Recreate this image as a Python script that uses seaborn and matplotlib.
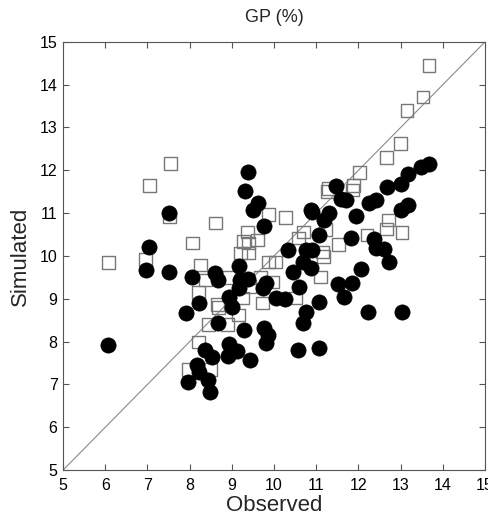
import matplotlib
matplotlib.use("Agg")
import matplotlib.pyplot as plt
import numpy as np
import pandas as pd
import seaborn as sns

# filled circles (observed, simulated)
circle_obs = [6.07, 7.04, 6.97, 7.52, 7.52, 8.06, 8.61, 8.68, 9.16, 9.20,
              9.39, 9.39, 9.30, 9.51, 9.61, 9.75, 8.92, 9.01, 8.23, 7.92,
              9.18, 9.73, 9.82, 10.04, 10.27, 8.66, 9.28, 9.75, 9.85, 9.80,
              8.92, 9.11, 8.90, 8.37, 8.54, 9.44, 8.18, 8.21, 7.97, 8.44,
              8.49, 10.91, 11.18, 11.06, 10.32, 10.75, 10.91, 10.68, 10.44, 10.87,
              10.58, 11.06, 10.75, 10.68, 10.56, 11.06, 11.46, 11.58, 11.70, 11.29,
              10.87, 11.94, 12.24, 12.41, 12.67, 13.00, 13.17, 13.48, 13.67, 13.00,
              13.17, 11.82, 12.36, 12.41, 12.60, 12.72, 12.05, 11.84, 11.51, 11.65,
              12.22, 13.03]
circle_sim = [7.92, 10.21, 9.67, 11.00, 9.63, 9.51, 9.60, 9.44, 9.77, 9.44,
              9.46, 11.96, 11.52, 11.07, 11.24, 10.70, 9.05, 8.81, 8.90, 8.67,
              9.25, 9.25, 9.37, 9.02, 9.00, 8.43, 8.27, 8.32, 8.15, 7.97,
              7.95, 7.78, 7.66, 7.80, 7.64, 7.57, 7.45, 7.29, 7.06, 7.10,
              6.82, 11.03, 10.84, 10.49, 10.14, 10.14, 10.14, 9.86, 9.63, 9.72,
              9.28, 8.93, 8.69, 8.43, 7.80, 7.85, 11.64, 11.33, 11.31, 11.00,
              11.07, 10.93, 11.24, 11.31, 11.61, 11.68, 11.92, 12.08, 12.15, 11.07,
              11.19, 10.42, 10.40, 10.19, 10.16, 9.86, 9.70, 9.37, 9.35, 9.04,
              8.69, 8.69]

# open squares (observed, simulated)
square_obs = [6.07, 6.95, 7.54, 7.04, 7.52, 8.61, 8.06, 8.25, 9.37, 9.28,
              9.39, 9.61, 9.20, 9.39, 9.87, 9.87, 10.04, 8.37, 8.92, 9.68,
              8.21, 8.66, 9.25, 9.73, 8.68, 9.16, 8.90, 8.44, 8.21, 7.97,
              8.49, 9.42, 10.27, 11.27, 11.86, 10.70, 10.58, 11.22, 11.53, 11.15,
              11.18, 11.10, 10.51, 9.96, 12.67, 12.03, 11.89, 11.29, 12.72, 12.67,
              13.03, 12.20, 13.67, 13.53, 13.15, 13.00]
square_sim = [9.84, 9.91, 12.15, 11.64, 10.91, 10.77, 10.30, 9.79, 10.56, 10.33,
              10.30, 10.37, 10.07, 10.07, 10.96, 9.86, 9.86, 9.44, 9.49, 9.49,
              9.14, 8.86, 9.02, 8.90, 8.79, 8.62, 8.39, 8.39, 7.99, 7.34,
              7.34, 9.28, 10.89, 11.50, 11.54, 10.56, 10.42, 10.61, 10.26, 10.09,
              9.98, 9.51, 9.02, 9.39, 12.29, 11.94, 11.64, 11.57, 10.84, 10.63,
              10.54, 10.49, 14.44, 13.71, 13.39, 12.62]

ticks = list(range(5, 16))

circles = pd.DataFrame({"Observed": circle_obs, "Simulated": circle_sim})
squares = pd.DataFrame({"Observed": square_obs, "Simulated": square_sim})

sns.set_style("ticks")
plt.rcParams["font.family"] = ["Liberation Sans", "DejaVu Sans"]

fig = plt.figure(figsize=(4.89, 5.16), dpi=100)
ax = fig.add_axes([0.129, 0.089, 0.863, 0.830])

# 1:1 line
ax.plot([5, 15], [5, 15], color="#8a8a8a", lw=0.8, zorder=1)

sns.scatterplot(data=squares, x="Observed", y="Simulated", marker="s", s=85,
                facecolor="none", edgecolor="#777777", linewidth=1.0, ax=ax, zorder=2)
sns.scatterplot(data=circles, x="Observed", y="Simulated", marker="o", s=120,
                color="black", edgecolor="black", linewidth=0.5, ax=ax, zorder=3)

ax.set_xlim(5, 15)
ax.set_ylim(5, 15)
ax.set_xticks(ticks)
ax.set_yticks(ticks)
ax.tick_params(direction="in", top=True, right=True, length=4, width=0.8,
               colors="#555555", labelcolor="black", labelsize=11.5, pad=4)
ax.tick_params(axis="x", pad=6)
for sp in ax.spines.values():
    sp.set_visible(True)
    sp.set_color("#555555")
    sp.set_linewidth(0.8)

ax.set_xlabel("Observed", fontsize=16, labelpad=1)
ax.set_ylabel("Simulated", fontsize=16, labelpad=6)
ax.set_title("GP (%)", fontsize=13, pad=14)

fig.savefig("out.png", dpi=100)
